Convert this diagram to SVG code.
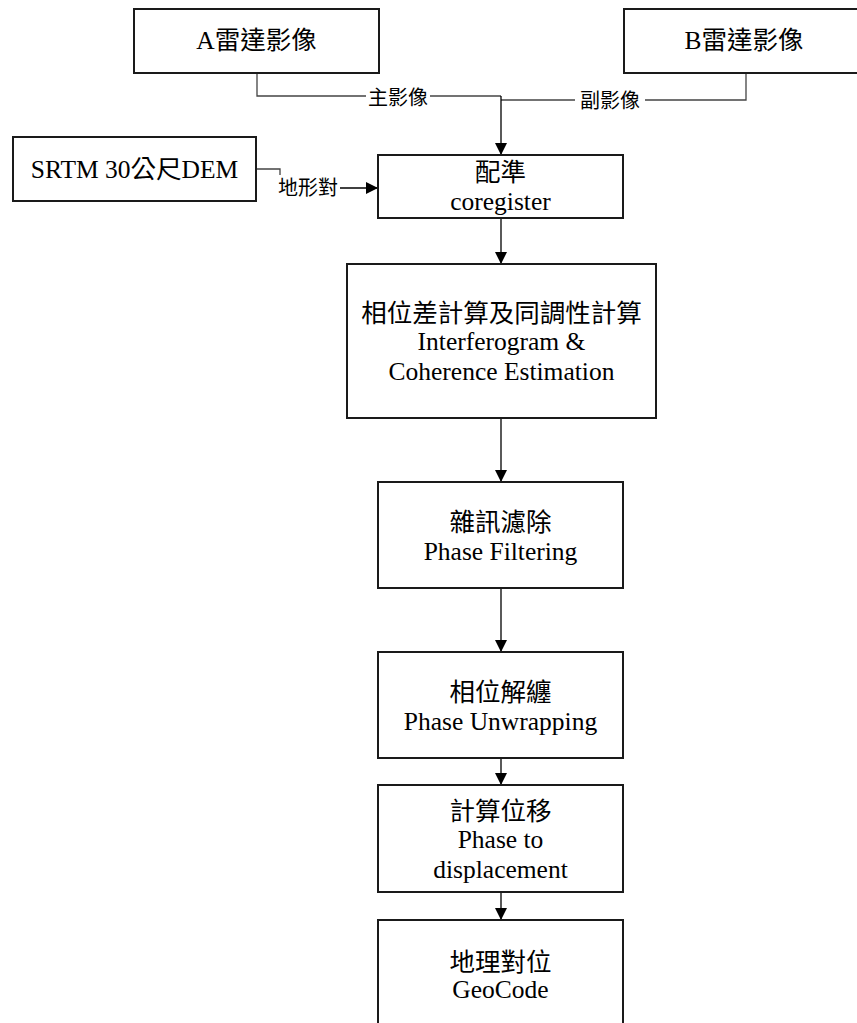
<svg xmlns="http://www.w3.org/2000/svg" width="857" height="1023" viewBox="0 0 857 1023">
<style>
  .box { fill: #ffffff; stroke: #1a1a1a; stroke-width: 2; }
  .t { font-family: "Liberation Serif", "Noto Sans CJK TC", serif; font-size: 25.5px; fill: #000; text-anchor: middle; }
  .lbl { font-family: "Liberation Serif", "Noto Sans CJK TC", serif; font-size: 20px; fill: #000; text-anchor: middle; }
  .ln { fill: none; stroke: #444; stroke-width: 1.3; }
  .arr { fill: none; stroke: #000; stroke-width: 1.3; marker-end: url(#ah); }
</style>
<defs>
  <marker id="ah" markerUnits="userSpaceOnUse" markerWidth="12" markerHeight="12" viewBox="0 0 12 12" refX="12" refY="6" orient="auto">
    <path d="M0,0 L12,6 L0,12 Z" fill="#000"/>
  </marker>
</defs>
<rect width="857" height="1023" fill="#ffffff"/>

<g id="connectors">
  <path class="ln" d="M257,73 V96 H366"/>
  <path class="ln" d="M430,96 H501"/>
  <path class="ln" d="M746,73 V100 H645"/>
  <path class="ln" d="M575,100 H501"/>
  <path class="arr" d="M501,96 V155"/>
  <path class="ln" d="M256,169 H280 V175"/>
  <path class="arr" d="M340,188 H378"/>
  <path class="arr" d="M501,218 V264"/>
  <path class="arr" d="M501,418 V482"/>
  <path class="arr" d="M501,588 V652"/>
  <path class="arr" d="M501,758 V785"/>
  <path class="arr" d="M501,892 V920"/>
  <text class="lbl" x="398" y="105">主影像</text>
  <text class="lbl" x="610" y="108">副影像</text>
  <text class="lbl" x="308" y="195">地形對</text>
</g>

<g id="nodeA">
  <rect class="box" x="134" y="9" width="245" height="64"/>
  <text class="t" x="256.5" y="49">A雷達影像</text>
</g>
<g id="nodeB">
  <rect class="box" x="624" y="9" width="240" height="64"/>
  <text class="t" x="744" y="49">B雷達影像</text>
</g>
<g id="nodeDEM">
  <rect class="box" x="13" y="137" width="243" height="64"/>
  <text class="t" x="134.5" y="178">SRTM 30公尺DEM</text>
</g>
<g id="nodeCoreg">
  <rect class="box" x="378" y="155" width="245" height="63"/>
  <text class="t" x="500.5" y="181">配準</text>
  <text class="t" x="500.5" y="210">coregister</text>
</g>
<g id="nodeInterf">
  <rect class="box" x="347" y="264" width="309" height="154"/>
  <text class="t" x="501.5" y="322">相位差計算及同調性計算</text>
  <text class="t" x="501.5" y="350">Interferogram &amp;</text>
  <text class="t" x="501.5" y="380">Coherence Estimation</text>
</g>
<g id="nodeFilter">
  <rect class="box" x="378" y="482" width="245" height="106"/>
  <text class="t" x="500.5" y="531">雜訊濾除</text>
  <text class="t" x="500.5" y="560">Phase Filtering</text>
</g>
<g id="nodeUnwrap">
  <rect class="box" x="378" y="652" width="245" height="106"/>
  <text class="t" x="500.5" y="701">相位解纏</text>
  <text class="t" x="500.5" y="730">Phase Unwrapping</text>
</g>
<g id="nodeDisp">
  <rect class="box" x="378" y="785" width="245" height="107"/>
  <text class="t" x="500.5" y="820">計算位移</text>
  <text class="t" x="500.5" y="848">Phase to</text>
  <text class="t" x="500.5" y="878">displacement</text>
</g>
<g id="nodeGeo">
  <rect class="box" x="378" y="920" width="245" height="120"/>
  <text class="t" x="500.5" y="971">地理對位</text>
  <text class="t" x="500.5" y="998">GeoCode</text>
</g>
</svg>
